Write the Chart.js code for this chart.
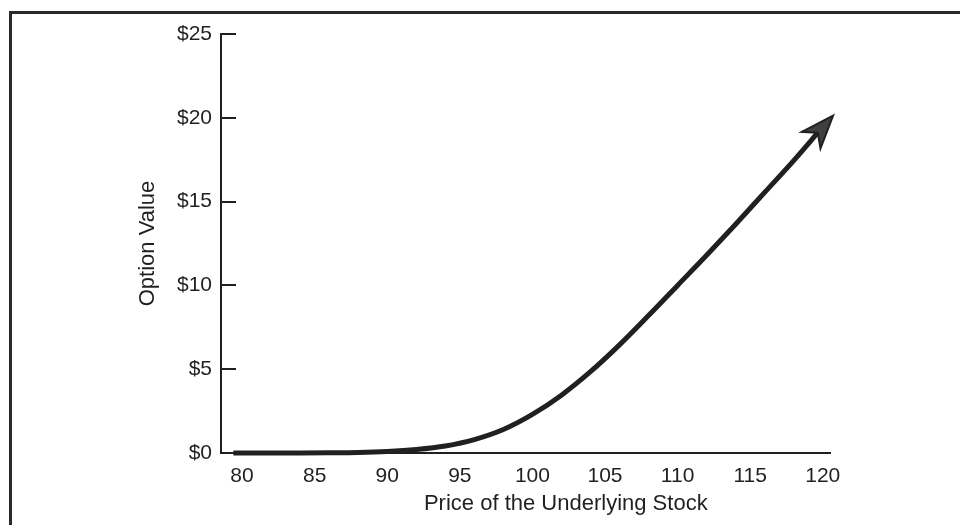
<!DOCTYPE html>
<html>
<head>
<meta charset="utf-8">
<script src="https://cdn.jsdelivr.net/npm/chart.js@4.4.1/dist/chart.umd.min.js"></script>
<style>
  html, body { margin: 0; padding: 0; background: #fff; }
  #wrap { position: relative; width: 960px; height: 525px; overflow: hidden; }
  #frame { position: absolute; left: 9px; top: 11px; width: 960px; height: 600px;
           border-left: 3px solid #2a2a2a; border-top: 3px solid #2a2a2a; }
  canvas { position: absolute; left: 0; top: 0; }
</style>
</head>
<body>
<div id="wrap">
  <div id="frame"></div>
  <canvas id="chart" width="960" height="525"></canvas>
</div>
<script>
// data
var prices = [79.4, 82, 84, 86, 88, 90, 92, 94, 96, 98, 100, 102, 104, 106, 108, 110, 112, 114, 116, 118, 119.75];
var optionValues = [0, 0, 0, 0.01, 0.03, 0.09, 0.21, 0.42, 0.8, 1.4, 2.3, 3.45, 4.85, 6.45, 8.2, 10.0, 11.8, 13.65, 15.55, 17.45, 19.2];
var xTicks = [80, 85, 90, 95, 100, 105, 110, 115, 120];
var yTicks = [0, 5, 10, 15, 20, 25];
var xTitle = 'Price of the Underlying Stock';
var yTitle = 'Option Value';

var ink = '#231f20';
var tickFont = { family: '"Liberation Sans", Arial, sans-serif', size: 21 };
var titleFont = { family: '"Liberation Sans", Arial, sans-serif', size: 22 };

var points = prices.map(function (p, i) { return { x: p, y: optionValues[i] }; });

// short tick marks pointing into the plot, like the print version
var inwardTicks = {
  id: 'inwardTicks',
  afterDraw: function (chart) {
    var ctx = chart.ctx, y = chart.scales.y, left = chart.chartArea.left;
    ctx.save();
    ctx.strokeStyle = ink;
    ctx.lineWidth = 2;
    yTicks.forEach(function (v) {
      if (v === 0) return;
      var py = Math.round(y.getPixelForValue(v));
      ctx.beginPath();
      ctx.moveTo(left, py);
      ctx.lineTo(left + 15, py);
      ctx.stroke();
    });
    // x title sits a bit right of the axis centre in the original
    ctx.fillStyle = ink;
    ctx.font = titleFont.size + 'px ' + titleFont.family;
    ctx.textAlign = 'center';
    ctx.textBaseline = 'middle';
    ctx.fillText(xTitle, chart.scales.x.getPixelForValue(102.3), 504);
    ctx.restore();
  }
};

// arrow head on the end of the curve
var arrowHead = {
  id: 'arrowHead',
  afterDatasetsDraw: function (chart) {
    var pts = chart.getDatasetMeta(0).data;
    var a = pts[pts.length - 3], b = pts[pts.length - 1];
    var dx = b.x - a.x, dy = b.y - a.y, len = Math.sqrt(dx * dx + dy * dy);
    var ux = dx / len, uy = dy / len, px = -uy, py = ux;
    var tip = { x: b.x + ux * 21, y: b.y + uy * 21 };
    var L = 33, W = 12.5, N = 23;
    var ctx = chart.ctx;
    ctx.save();
    ctx.beginPath();
    ctx.moveTo(tip.x, tip.y);
    ctx.lineTo(tip.x - ux * L + px * W, tip.y - uy * L + py * W);
    ctx.lineTo(tip.x - ux * N, tip.y - uy * N);
    ctx.lineTo(tip.x - ux * L - px * W, tip.y - uy * L - py * W);
    ctx.closePath();
    ctx.fillStyle = '#404040';
    ctx.fill();
    ctx.lineWidth = 2;
    ctx.lineJoin = 'miter';
    ctx.strokeStyle = ink;
    ctx.stroke();
    ctx.restore();
  }
};

new Chart(document.getElementById('chart'), {
  type: 'line',
  data: {
    datasets: [{
      data: points,
      borderColor: ink,
      borderWidth: 5,
      pointRadius: 0,
      cubicInterpolationMode: 'monotone',
      clip: false
    }]
  },
  options: {
    responsive: false,
    animation: false,
    layout: { padding: { left: 0, top: 34, right: 130, bottom: 0 } },
    plugins: { legend: { display: false }, tooltip: { enabled: false } },
    scales: {
      x: {
        type: 'linear',
        min: 78.55,
        max: 120.5,
        afterBuildTicks: function (s) { s.ticks = xTicks.map(function (v) { return { value: v }; }); },
        afterFit: function (s) { s.height = 72; },
        grid: { display: false, drawTicks: false },
        border: { display: true, color: ink, width: 2 },
        ticks: { color: ink, font: tickFont, padding: 11, maxRotation: 0 }
      },
      y: {
        min: 0,
        max: 25,
        afterBuildTicks: function (s) { s.ticks = yTicks.map(function (v) { return { value: v }; }); },
        afterFit: function (s) { s.width = 221; },
        grid: { display: false, drawTicks: false },
        border: { display: true, color: ink, width: 2 },
        ticks: { color: ink, font: tickFont, padding: 9, callback: function (v) { return '$' + v; } },
        title: { display: true, text: yTitle, color: ink, font: titleFont, padding: { top: 135 } }
      }
    }
  },
  plugins: [inwardTicks, arrowHead]
});
</script>
</body>
</html>
